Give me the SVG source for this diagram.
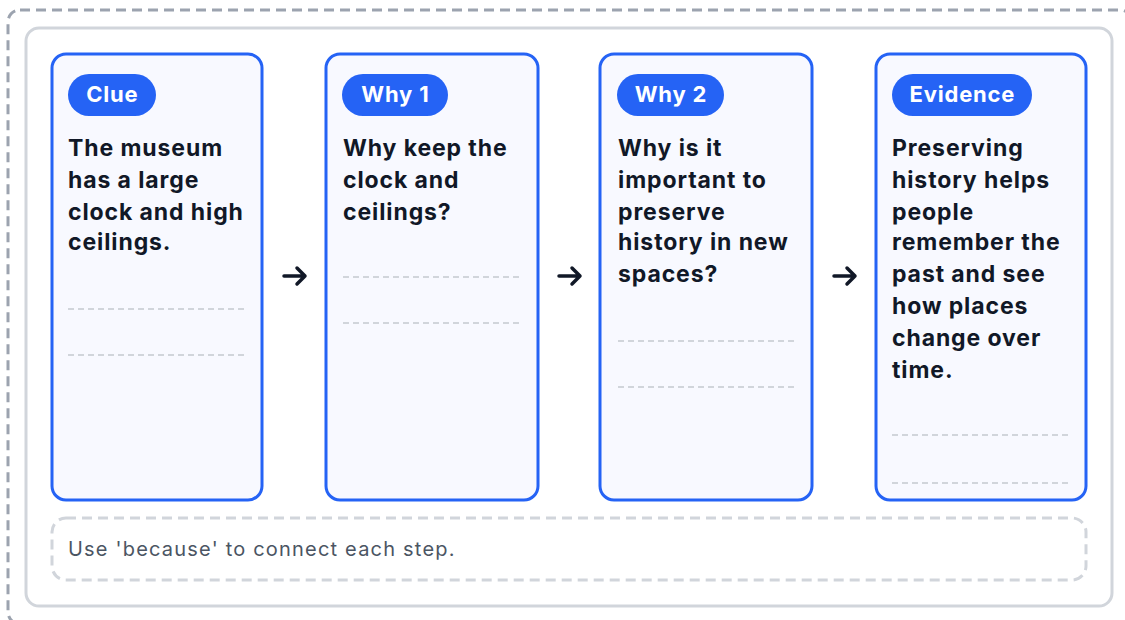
<svg xmlns="http://www.w3.org/2000/svg" width="1125" height="620" viewBox="0 0 1125 620">
<style>
.card{fill:#f8f9ff;stroke:#2563f5;stroke-width:3}
.pill{fill:#2563f5}
.pt{font-family:Inter,"Liberation Sans",sans-serif;font-weight:700;font-size:22px;letter-spacing:0.8px;fill:#ffffff;text-anchor:middle}
.bt{font-family:Inter,"Liberation Sans",sans-serif;font-weight:700;font-size:23px;letter-spacing:0.9px;fill:#111827}
.rule{stroke:#d1d5db;stroke-width:2;stroke-dasharray:6 4;fill:none}
.arrow{stroke:#111827;stroke-width:3.5;fill:none;stroke-linecap:round;stroke-linejoin:round}
</style>
<rect x="0" y="0" width="1125" height="620" fill="#ffffff"/>
<rect x="8" y="10" width="1124" height="614" rx="12" fill="none" stroke="#9ca3af" stroke-width="3" stroke-dasharray="10 6"/>
<rect x="26" y="28" width="1086" height="578" rx="13" fill="#ffffff" stroke="#d1d5db" stroke-width="3"/>
<g id="clue">
<rect class="card" x="52" y="54" width="210" height="446" rx="14"/>
<rect class="pill" x="68" y="74" width="88" height="42" rx="21"/>
<text class="pt" x="112.4" y="102">Clue</text>
<text class="bt" x="68" y="156">The museum</text>
<text class="bt" x="68" y="188">has a large</text>
<text class="bt" x="68" y="220">clock and high</text>
<text class="bt" x="68" y="250">ceilings.</text>
<line class="rule" x1="68" y1="309" x2="246" y2="309"/>
<line class="rule" x1="68" y1="355" x2="246" y2="355"/>
</g>
<g id="why1">
<rect class="card" x="326" y="54" width="212" height="446" rx="14"/>
<rect class="pill" x="342" y="74" width="106" height="42" rx="21"/>
<text class="pt" x="395.4" y="102">Why 1</text>
<text class="bt" x="343" y="156">Why keep the</text>
<text class="bt" x="343" y="188">clock and</text>
<text class="bt" x="343" y="220">ceilings?</text>
<line class="rule" x1="343" y1="277" x2="521" y2="277"/>
<line class="rule" x1="343" y1="323" x2="521" y2="323"/>
</g>
<g id="why2">
<rect class="card" x="600" y="54" width="212" height="446" rx="14"/>
<rect class="pill" x="617" y="74" width="107" height="42" rx="21"/>
<text class="pt" x="670.9" y="102">Why 2</text>
<text class="bt" x="618" y="156">Why is it</text>
<text class="bt" x="618" y="188">important to</text>
<text class="bt" x="618" y="220">preserve</text>
<text class="bt" x="618" y="250">history in new</text>
<text class="bt" x="618" y="282">spaces?</text>
<line class="rule" x1="618" y1="341" x2="796" y2="341"/>
<line class="rule" x1="618" y1="387" x2="796" y2="387"/>
</g>
<g id="evidence">
<rect class="card" x="876" y="54" width="210" height="446" rx="14"/>
<rect class="pill" x="892" y="74" width="140" height="42" rx="21"/>
<text class="pt" x="962.4" y="102">Evidence</text>
<text class="bt" x="892" y="156">Preserving</text>
<text class="bt" x="892" y="188">history helps</text>
<text class="bt" x="892" y="220">people</text>
<text class="bt" x="892" y="250">remember the</text>
<text class="bt" x="892" y="282">past and see</text>
<text class="bt" x="892" y="314">how places</text>
<text class="bt" x="892" y="346">change over</text>
<text class="bt" x="892" y="378">time.</text>
<line class="rule" x1="892" y1="435" x2="1070" y2="435"/>
<line class="rule" x1="892" y1="483" x2="1070" y2="483"/>
</g>
<g id="connectors">
<path class="arrow" d="M284,276 H305 M297,268 L305,276 L297,284"/>
<path class="arrow" d="M559,276 H580 M572,268 L580,276 L572,284"/>
<path class="arrow" d="M834,276 H855 M847,268 L855,276 L847,284"/>
</g>
<g id="note">
<rect x="52" y="518" width="1034" height="62" rx="14" fill="none" stroke="#d1d5db" stroke-width="3" stroke-dasharray="10 6"/>
<text x="68" y="556" font-family="Inter,'Liberation Sans',sans-serif" font-size="20" letter-spacing="1.2" fill="#4b5563">Use 'because' to connect each step.</text>
</g>
</svg>
